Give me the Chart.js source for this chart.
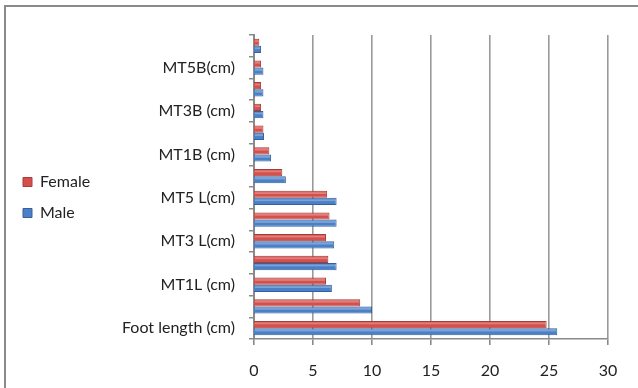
<!DOCTYPE html>
<html>
<head>
<meta charset="utf-8">
<script src="https://cdn.jsdelivr.net/npm/chart.js@4/dist/chart.umd.min.js"></script>
<style>
  html, body { margin: 0; padding: 0; background: #ffffff; }
  #wrap { width: 638px; height: 388px; position: relative; }
</style>
</head>
<body>
<div id="wrap"><canvas id="c" width="638" height="388"></canvas></div>
<script>
// Foot measurements (cm), listed from the bottom row upward
const categories = [
  'Foot length (cm)', 'Foot breadth (cm)', 'MT1L (cm)', 'MT2L (cm)',
  'MT3 L(cm)', 'MT4L (cm)', 'MT5 L(cm)', 'Heel breadth (cm)',
  'MT1B (cm)', 'MT2B (cm)', 'MT3B (cm)', 'MT4B (cm)', 'MT5B(cm)', 'MT5H (cm)'
];
const female = [24.8, 9.0, 6.1, 6.3, 6.1, 6.4, 6.2, 2.4, 1.3, 0.8, 0.6, 0.6, 0.6, 0.45];
const male   = [25.7, 10.0, 6.6, 7.0, 6.8, 7.0, 7.0, 2.7, 1.45, 0.85, 0.8, 0.8, 0.8, 0.6];
const xTicks = [0, 5, 10, 15, 20, 25, 30];

const FONT = 'Lato, "Open Sans", sans-serif';
const PLOT_LEFT = 254;
const PAD_LEFT = 8;

// outer frame: left and top edges
const framePlugin = {
  id: 'frame',
  beforeDraw(chart) {
    const ctx = chart.ctx;
    ctx.save();
    ctx.strokeStyle = '#8a8a8a';
    ctx.lineWidth = 2;
    ctx.beginPath();
    ctx.moveTo(5, 388);
    ctx.lineTo(5, 6);
    ctx.lineTo(638, 6);
    ctx.stroke();
    ctx.restore();
  }
};

// light highlight along the upper edge of each bar
const shinePlugin = {
  id: 'shine',
  afterDatasetsDraw(chart) {
    const ctx = chart.ctx;
    ctx.save();
    chart.data.datasets.forEach((ds, di) => {
      const meta = chart.getDatasetMeta(di);
      meta.data.forEach(bar => {
        const left = Math.min(bar.base, bar.x);
        const w = Math.abs(bar.x - bar.base);
        const top = bar.y - bar.height / 2;
        ctx.fillStyle = 'rgba(255,255,255,0.28)';
        ctx.fillRect(left + 1, top + 1.5, Math.max(w - 2, 0), bar.height * 0.25);
      });
    });
    ctx.restore();
  }
};

new Chart(document.getElementById('c'), {
  type: 'bar',
  data: {
    labels: categories,
    datasets: [
      {
        label: 'Female',
        data: female,
        backgroundColor: '#d5504c',
        borderColor: '#a83c39',
        borderWidth: 1,
        categoryPercentage: 0.66,
        barPercentage: 1.0
      },
      {
        label: 'Male',
        data: male,
        backgroundColor: '#4a80c8',
        borderColor: '#35609c',
        borderWidth: 1,
        categoryPercentage: 0.66,
        barPercentage: 1.0
      }
    ]
  },
  options: {
    indexAxis: 'y',
    responsive: false,
    animation: false,
    devicePixelRatio: 1,
    layout: { padding: { left: PAD_LEFT, top: 7, right: 30, bottom: 0 } },
    plugins: {
      legend: {
        position: 'left',
        align: 'center',
        labels: {
          boxWidth: 9,
          boxHeight: 9,
          padding: 15,
          color: '#222',
          font: { family: FONT, size: 16 }
        }
      },
      tooltip: { enabled: false }
    },
    scales: {
      xTop: {
        type: 'linear',
        position: 'top',
        display: true,
        grid: { display: false },
        border: { display: false },
        ticks: { display: false },
        afterFit(s) { s.height = 28; }
      },
      x: {
        type: 'linear',
        min: 0,
        max: 30,
        afterBuildTicks(s) { s.ticks = xTicks.map(v => ({ value: v })); },
        grid: {
          color: '#9a9a9a',
          lineWidth: 1.6,
          tickLength: 6,
          tickColor: '#8a8a8a'
        },
        border: { color: '#8a8a8a', width: 1.6 },
        ticks: {
          padding: 16,
          color: '#222',
          font: { family: FONT, size: 16 }
        },
        afterFit(s) { s.height = 49; }
      },
      y: {
        type: 'category',
        reverse: true,
        offset: true,
        grid: {
          display: true,
          offset: true,
          drawOnChartArea: false,
          tickLength: 5,
          color: '#8a8a8a',
          lineWidth: 1.5
        },
        border: { color: '#8a8a8a', width: 2 },
        ticks: {
          autoSkip: false,
          padding: 14,
          color: '#222',
          font: { family: FONT, size: 16 },
          callback(value, index) { return index % 2 === 0 ? categories[index] : ''; }
        },
        afterFit(s) {
          const lw = s.chart.legend ? s.chart.legend.width : 0;
          s.width = PLOT_LEFT - PAD_LEFT - lw;
        }
      }
    }
  },
  plugins: [framePlugin, shinePlugin]
});
</script>
</body>
</html>
